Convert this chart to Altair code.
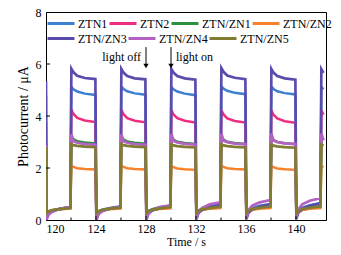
import altair as alt
import pandas as pd

# ---------------- data ----------------
TIME = [120.0, 120.03, 120.2, 120.5, 121.1, 121.95,
        122.03, 122.2, 122.5, 123.1, 123.95, 124.03, 124.2, 124.5, 125.1, 125.95,
        126.03, 126.2, 126.5, 127.1, 127.95, 128.03, 128.2, 128.5, 129.1, 129.95,
        130.03, 130.2, 130.5, 131.1, 131.95, 132.03, 132.2, 132.5, 133.1, 133.95,
        134.03, 134.2, 134.5, 135.1, 135.95, 136.03, 136.2, 136.5, 137.1, 137.95,
        138.03, 138.2, 138.5, 139.1, 139.95, 140.03, 140.2, 140.5, 141.1, 141.95,
        142.03, 142.2]

ZTN1 = [4.80, 0.15, 0.30, 0.37, 0.43, 0.50,
        5.12, 5.03, 4.94, 4.86, 4.81, 0.15, 0.32, 0.40, 0.46, 0.52,
        5.13, 5.04, 4.95, 4.87, 4.82, 0.16, 0.34, 0.42, 0.49, 0.55,
        5.12, 5.03, 4.94, 4.86, 4.80, 0.16, 0.36, 0.45, 0.53, 0.60,
        5.15, 5.05, 4.97, 4.89, 4.84, 0.17, 0.37, 0.46, 0.55, 0.62,
        5.13, 5.04, 4.95, 4.88, 4.83, 0.17, 0.38, 0.48, 0.57, 0.65,
        5.12, 5.03]
ZTN2 = [3.75, 0.10, 0.28, 0.35, 0.41, 0.47,
        4.25, 4.08, 3.93, 3.83, 3.77, 0.10, 0.28, 0.36, 0.42, 0.48,
        4.24, 4.07, 3.92, 3.82, 3.76, 0.10, 0.29, 0.37, 0.44, 0.50,
        4.23, 4.06, 3.92, 3.82, 3.75, 0.10, 0.30, 0.38, 0.46, 0.53,
        4.22, 4.06, 3.91, 3.81, 3.75, 0.10, 0.30, 0.39, 0.47, 0.55,
        4.22, 4.05, 3.91, 3.80, 3.74, 0.10, 0.30, 0.38, 0.45, 0.52,
        4.22, 4.05]
ZTN_ZN1 = [2.93, 0.20, 0.32, 0.37, 0.42, 0.47,
           3.20, 3.11, 3.03, 2.98, 2.95, 0.20, 0.32, 0.38, 0.43, 0.48,
           3.19, 3.10, 3.02, 2.97, 2.94, 0.20, 0.33, 0.39, 0.44, 0.49,
           3.18, 3.09, 3.01, 2.96, 2.93, 0.20, 0.33, 0.40, 0.46, 0.51,
           3.18, 3.09, 3.01, 2.96, 2.93, 0.20, 0.34, 0.41, 0.47, 0.52,
           3.18, 3.08, 3.00, 2.95, 2.92, 0.20, 0.34, 0.41, 0.47, 0.53,
           3.18, 3.08]
ZTN_ZN2 = [1.93, 0.28, 0.34, 0.38, 0.41, 0.44,
           2.09, 2.04, 1.99, 1.96, 1.94, 0.28, 0.34, 0.38, 0.41, 0.44,
           2.09, 2.04, 1.99, 1.96, 1.94, 0.28, 0.34, 0.38, 0.42, 0.45,
           2.08, 2.03, 1.98, 1.95, 1.93, 0.28, 0.35, 0.39, 0.43, 0.46,
           2.09, 2.04, 1.99, 1.96, 1.94, 0.28, 0.35, 0.39, 0.43, 0.46,
           2.08, 2.03, 1.98, 1.95, 1.93, 0.28, 0.35, 0.39, 0.43, 0.46,
           2.08, 2.03]
ZTN_ZN3 = [5.35, 0.02, 0.22, 0.33, 0.43, 0.50,
           5.82, 5.68, 5.55, 5.46, 5.42, 0.02, 0.24, 0.35, 0.44, 0.52,
           5.81, 5.67, 5.54, 5.45, 5.41, 0.03, 0.25, 0.37, 0.47, 0.55,
           5.81, 5.67, 5.54, 5.45, 5.40, 0.03, 0.27, 0.40, 0.50, 0.58,
           5.84, 5.70, 5.56, 5.47, 5.42, 0.04, 0.28, 0.41, 0.52, 0.60,
           5.81, 5.67, 5.54, 5.45, 5.40, 0.04, 0.30, 0.43, 0.55, 0.64,
           5.80, 5.66]
ZTN_ZN4 = [2.88, 0.00, 0.20, 0.32, 0.43, 0.50,
           3.30, 3.03, 2.97, 2.92, 2.89, 0.00, 0.22, 0.34, 0.44, 0.50,
           3.30, 3.03, 2.97, 2.92, 2.89, 0.02, 0.26, 0.40, 0.50, 0.56,
           3.32, 3.04, 2.98, 2.93, 2.90, 0.04, 0.32, 0.47, 0.60, 0.68,
           3.32, 3.05, 2.99, 2.94, 2.91, 0.06, 0.38, 0.55, 0.68, 0.77,
           3.33, 3.06, 3.00, 2.95, 2.92, 0.08, 0.42, 0.60, 0.74, 0.84,
           3.33, 3.06]
ZTN_ZN5 = [2.80, 0.25, 0.33, 0.38, 0.42, 0.46,
           2.92, 2.88, 2.85, 2.82, 2.80, 0.25, 0.34, 0.39, 0.44, 0.48,
           2.92, 2.88, 2.85, 2.82, 2.80, 0.26, 0.35, 0.40, 0.45, 0.50,
           2.91, 2.87, 2.84, 2.81, 2.79, 0.26, 0.36, 0.41, 0.46, 0.51,
           2.91, 2.87, 2.84, 2.81, 2.79, 0.26, 0.36, 0.42, 0.47, 0.52,
           2.90, 2.86, 2.83, 2.80, 2.78, 0.26, 0.36, 0.42, 0.47, 0.52,
           2.90, 2.86]

SERIES_A = ["ZTN1", "ZTN2", "ZTN/ZN1", "ZTN/ZN2"]
VALUES_A = [ZTN1, ZTN2, ZTN_ZN1, ZTN_ZN2]
COLORS_A = ["#3d80d0", "#ee2f80", "#2f8f40", "#f7822c"]
SERIES_B = ["ZTN/ZN3", "ZTN/ZN4", "ZTN/ZN5"]
VALUES_B = [ZTN_ZN3, ZTN_ZN4, ZTN_ZN5]
COLORS_B = ["#5a4cad", "#b461c4", "#807c32"]

X_TICKS = [120, 124, 128, 132, 136, 140]
X_MINOR = [122, 126, 130, 134, 138, 142]
Y_TICKS = [0, 2, 4, 6, 8]

ANN_T = [128, 130]
ANN_TOP = [6.65, 6.65]
ANN_TIP = [5.92, 5.92]
ANN_TEXT_Y = [6.28, 6.28]
ANN_TEXT = ["light off", "light on"]

# ---------------- build ----------------
def long(names, values):
    rows = []
    for name, vals in zip(names, values):
        for t, v in zip(TIME, vals):
            rows.append({"t": t, "v": v, "s": name})
    return pd.DataFrame(rows)


dfa = long(SERIES_A, VALUES_A)
dfb = long(SERIES_B, VALUES_B)

W, H = 280, 208
FONT = "Liberation Serif"
xs = alt.Scale(domain=[120, 142.4], nice=False, zero=False)
ys = alt.Scale(domain=[0, 8], nice=False)
x_axis = alt.Axis(values=X_TICKS, ticks=False, grid=False, labelPadding=3,
                  titlePadding=2, domainColor="black")
y_axis = alt.Axis(values=Y_TICKS, ticks=False, grid=False, labelPadding=5,
                  titleX=-23, titleY=H / 2, titleBaseline="middle",
                  titleFontSize=14, domainColor="black")


def X():
    return alt.X("t:Q", scale=xs, title="Time / s", axis=x_axis)


def Y(field="v"):
    return alt.Y(f"{field}:Q", scale=ys, title="Photocurrent / μA", axis=y_axis)


def legend(y):
    return alt.Legend(orient="none", legendX=0, legendY=y, direction="horizontal",
                      title=None, symbolType="stroke", symbolSize=729,
                      symbolStrokeWidth=3, labelFont=FONT, labelFontSize=12,
                      labelColor="black", columnPadding=-11, labelOffset=2, padding=0)


lines_a = alt.Chart(dfa).mark_line(strokeWidth=2.5, clip=True).encode(
    x=X(), y=Y(),
    color=alt.Color("s:N", scale=alt.Scale(domain=SERIES_A, range=COLORS_A),
                    sort=SERIES_A, legend=legend(-3.5)),
    order=alt.Order("t:Q"),
)
lines_b = alt.Chart(dfb).mark_line(strokeWidth=2.7, clip=True).encode(
    x=X(), y=Y(),
    stroke=alt.Stroke("s:N", scale=alt.Scale(domain=SERIES_B, range=COLORS_B),
                      sort=SERIES_B, legend=legend(11.5)),
    order=alt.Order("t:Q"),
)

xt = pd.DataFrame({"t": X_TICKS[1:]})
xm = pd.DataFrame({"t": X_MINOR[:-1]})
yt = pd.DataFrame({"v": Y_TICKS[1:-1]})

xtick = alt.Chart(xt).mark_rule(color="black", strokeWidth=1).encode(
    x=X(), y=alt.value(H), y2=alt.value(H - 4))
xminor = alt.Chart(xm).mark_rule(color="black", strokeWidth=1).encode(
    x=X(), y=alt.value(H), y2=alt.value(H - 2.5))
ytick = alt.Chart(yt).mark_rule(color="black", strokeWidth=1).encode(
    y=Y(), x=alt.value(0), x2=alt.value(4))

arr = pd.DataFrame({"t": ANN_T, "v": ANN_TOP, "tip": ANN_TIP})
head = pd.DataFrame({"t": ANN_T, "v": ANN_TIP})
lab = pd.DataFrame({"t": ANN_T, "v": ANN_TEXT_Y, "txt": ANN_TEXT})

arrows = alt.Chart(arr).mark_rule(color="black", strokeWidth=1).encode(
    x=X(), y=Y(), y2="tip:Q")
heads = alt.Chart(head).mark_point(shape="triangle-down", filled=True, color="black",
                                   size=28, opacity=1).encode(x=X(), y=Y())
txt_off = alt.Chart(lab.iloc[[0]]).mark_text(font=FONT, fontSize=12, align="right",
                                             dx=-5, color="black").encode(
    x=X(), y=Y(), text="txt:N")
txt_on = alt.Chart(lab.iloc[[1]]).mark_text(font=FONT, fontSize=12, align="left",
                                            dx=5, color="black").encode(
    x=X(), y=Y(), text="txt:N")

chart = alt.layer(lines_a, lines_b, xtick, xminor, ytick, arrows, heads,
                  txt_off, txt_on).resolve_scale(color="independent", stroke="independent").properties(
    width=W, height=H,
    padding={"left": 46, "top": 12, "right": 15, "bottom": 35},
    autosize=alt.AutoSizeParams(type="none"),
    background="white",
).configure_view(stroke="black", strokeWidth=1).configure_axis(
    labelFont=FONT, titleFont=FONT, labelFontSize=12, titleFontSize=12,
    titleFontWeight="normal", labelColor="black", titleColor="black",
    domainWidth=1,
)

chart.save("out.html", embed_options={"renderer": "svg", "actions": False})
